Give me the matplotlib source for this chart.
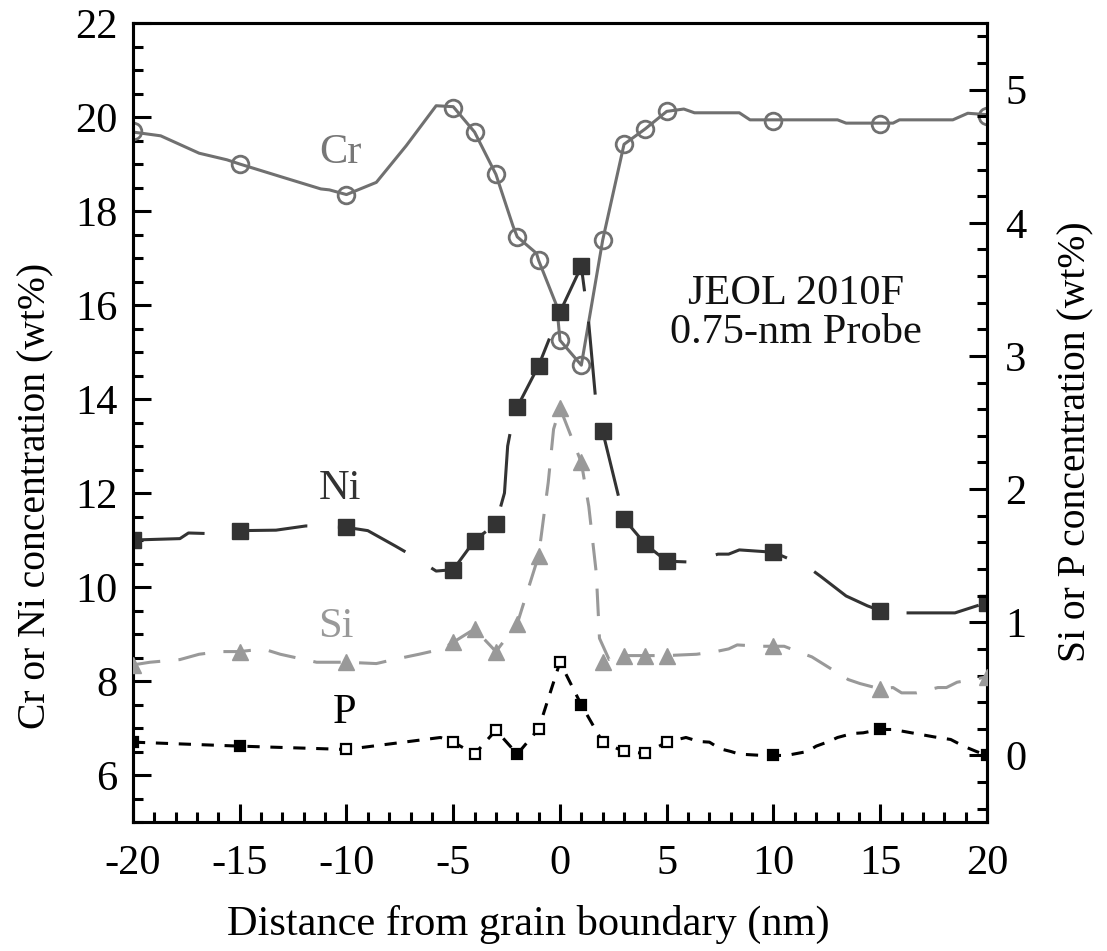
import matplotlib
matplotlib.use("Agg")
import matplotlib.pyplot as plt
from matplotlib.ticker import MultipleLocator

plt.rcParams['font.family'] = ['Liberation Serif', 'DejaVu Serif']
plt.rcParams['axes.unicode_minus'] = False

# measured points (markers)
pos = [-20, -15, -10, -5, -4, -3, -2, -1, 0, 1, 2, 3, 4, 5, 10, 15, 20]
cr = [19.7, 19.0, 18.35, 20.2, 19.68, 18.78, 17.45, 16.95, 15.25, 14.72, 17.38, 19.42, 19.75, 20.12, 19.92, 19.85, 20.02]
ni = [11.0, 11.2, 11.27, 10.37, 10.99, 11.35, 13.83, 14.71, 15.85, 16.82, 13.31, 11.45, 10.91, 10.55, 10.74, 9.5, 9.67]
si = [0.68, 0.78, 0.70, 0.85, 0.95, 0.78, 0.99, 1.50, 2.61, 2.2, 0.70, 0.75, 0.75, 0.75, 0.82, 0.50, 0.59]
p = [0.10, 0.07, 0.045, 0.10, 0.01, 0.19, 0.01, 0.20, 0.70, 0.38, 0.10, 0.03, 0.015, 0.10, 0.0, 0.195, 0.0]
p_filled = [1, 1, 0, 0, 0, 0, 1, 0, 0, 1, 0, 0, 0, 0, 1, 1, 1]

# drawn profile curves
cr_line_x = [-20, -18.7, -16.9, -15.6, -15, -13.0, -11.2, -10.8, -10, -8.6, -7.2, -5.8, -5, -4, -3, -2.2, -2,
             -1.1, -1, -0.15, 0, 1, 2, 3, 4, 5, 5.8, 6.3, 8.4, 8.9, 13.0, 13.4, 15.6, 15.9, 18.4, 19.1, 20]
cr_line_y = [19.68, 19.6, 19.23, 19.09, 19.0, 18.72, 18.47, 18.45, 18.35, 18.61, 19.39, 20.24, 20.22, 19.68, 18.78,
             17.68, 17.45, 17.1, 16.95, 15.98, 15.25, 14.72, 17.38, 19.42, 19.75, 20.12, 20.17, 20.09, 20.09, 19.94,
             19.94, 19.87, 19.87, 19.94, 19.94, 20.08, 20.05]

ni_line_x = [-20, -17.8, -17.4, -15.9, -15.5, -15, -13.3, -11.9, -10, -9, -7.7, -6.9, -5.8, -5, -4, -3, -2.6, -2.45,
             -2.2, -2, -1, 0, 1, 1.35, 1.72, 2, 3, 4, 5, 6.2, 7.4, 7.9, 8.4, 10, 11.6, 12.2, 13.4, 14.4, 15, 15.5,
             18.5, 20]
ni_line_y = [11.0, 11.03, 11.15, 11.13, 11.21, 11.2, 11.21, 11.3, 11.27, 11.2, 10.87, 10.66, 10.34, 10.37, 10.99,
             11.35, 12.0, 13.0, 13.6, 13.83, 14.71, 15.85, 16.82, 15.6, 13.75, 13.31, 11.45, 10.91, 10.55, 10.53,
             10.7, 10.7, 10.79, 10.74, 10.43, 10.23, 9.81, 9.6, 9.5, 9.45, 9.45, 9.67]

si_line_x = [-20, -19.2, -17.8, -16.9, -15.9, -15, -13.9, -13.1, -11.4, -10, -8.6, -7.8, -6.6, -5.5, -5, -4, -3, -2,
             -1, -0.55, -0.3, 0, 1, 1.35, 1.7, 1.85, 2.3, 3, 4, 5, 6.4, 7.3, 7.9, 8.3, 9.4, 10, 10.5, 11.3, 11.8,
             12.5, 13.5, 14.05, 15, 15.6, 16.0, 16.7, 17.7, 18.1, 18.6, 20]
si_line_y = [0.68, 0.70, 0.72, 0.76, 0.78, 0.78, 0.80, 0.76, 0.70, 0.70, 0.69, 0.72, 0.76, 0.80, 0.85, 0.95, 0.78,
             0.99, 1.50, 2.05, 2.45, 2.61, 2.2, 1.87, 1.37, 0.88, 0.72, 0.75, 0.75, 0.75, 0.76, 0.78, 0.80, 0.83,
             0.82, 0.82, 0.82, 0.77, 0.74, 0.67, 0.57, 0.54, 0.50, 0.51, 0.47, 0.47, 0.51, 0.51, 0.55, 0.59]

p_line_x = [-20, -15, -10, -5.6, -5, -4, -3, -2, -1, 0, 1, 2, 3, 4, 5, 5.9, 6.5, 7.0, 7.5, 8.0, 8.4, 9.5, 10, 10.6,
            11.6, 12.0, 12.6, 13.0, 13.7, 14.2, 15, 15.6, 17.5, 18.3, 18.9, 19.5, 20]
p_line_y = [0.10, 0.07, 0.045, 0.135, 0.10, 0.01, 0.19, 0.01, 0.20, 0.70, 0.38, 0.10, 0.03, 0.015, 0.10, 0.135,
            0.105, 0.10, 0.05, 0.03, 0.01, 0.0, 0.0, 0.0, 0.03, 0.07, 0.105, 0.135, 0.165, 0.17, 0.195, 0.195, 0.14,
            0.12, 0.07, 0.03, 0.0]

c_cr = '#707070'
c_ni = '#333333'
c_si = '#999999'
c_p = '#000000'
fs = 30.5
fs_ylab = 28.5

fig = plt.figure(figsize=(11.07, 9.51), dpi=100)
ax = fig.add_axes([0.1201, 0.1356, 0.7715, 0.8402])
ax2 = ax.twinx()

# Cr / Ni on the left axis
ax.plot(cr_line_x, cr_line_y, color=c_cr, lw=2.2, zorder=2)
ax.plot(pos, cr, 'o', ms=12, mfc='none', mec=c_cr, mew=2, zorder=3)
ax.plot(ni_line_x, ni_line_y, color=c_ni, lw=2.2, dashes=(24, 10), zorder=4)
ax.plot(pos, ni, 's', ms=12, mfc=c_ni, mec=c_ni, zorder=5)

# Si / P on the right axis
ax2.plot(si_line_x, si_line_y, color=c_si, lw=2.2, dashes=(9, 6), zorder=2)
ax2.plot(pos, si, '^', ms=11, mfc=c_si, mec=c_si, zorder=3)
ax2.plot(p_line_x, p_line_y, color=c_p, lw=2.2, dashes=(4, 3.5), zorder=4)
for xi, yi, f in zip(pos, p, p_filled):
    ax2.plot(xi, yi, 's', ms=7.5, mfc=(c_p if f else 'white'), mec=c_p, mew=1.6, zorder=5)

ax.set_xlim(-20, 20)
ax.set_ylim(5, 22)
ax2.set_ylim(-0.5, 5.5)

ax.xaxis.set_major_locator(MultipleLocator(5))
ax.xaxis.set_minor_locator(MultipleLocator(1))
ax.yaxis.set_minor_locator(MultipleLocator(0.5))
ax2.yaxis.set_minor_locator(MultipleLocator(0.2))
ax.set_yticks(range(6, 23, 2))
ax2.set_yticks(range(0, 6))

for a in (ax, ax2):
    for s in a.spines.values():
        s.set_linewidth(2.2)
ax.tick_params(axis='both', which='major', direction='in', length=13, width=2.2, labelsize=fs, pad=11,
               top=False, right=False)
ax.tick_params(axis='both', which='minor', direction='in', length=7, width=2.2, top=False, right=False)
ax.tick_params(axis='x', which='major', pad=16)
ax2.tick_params(axis='x', which='both', top=False, bottom=False, labeltop=False, labelbottom=False)
ax2.tick_params(axis='y', which='major', direction='in', length=13, width=2.2, labelsize=fs, pad=13)
ax2.tick_params(axis='y', which='minor', direction='in', length=7, width=2.2)

ax.set_xlabel('Distance from grain boundary (nm)', fontsize=fs)
ax.xaxis.set_label_coords(0.4625, -0.104)
ax.set_ylabel('Cr or Ni concentration (wt%)', fontsize=fs_ylab)
ax.yaxis.set_label_coords(-0.092, 0.408)
ax2.set_ylabel('Si or P concentration (wt%)', fontsize=fs_ylab)
ax2.yaxis.set_label_coords(1.083, 0.476)

ax.text(-10.3, 19.25, 'Cr', color='#777777', fontsize=fs, ha='center', va='center')
ax.text(-10.3, 12.1, 'Ni', color=c_ni, fontsize=fs, ha='center', va='center')
ax.text(-10.5, 9.15, 'Si', color=c_si, fontsize=fs, ha='center', va='center')
ax.text(-10.1, 7.32, 'P', color=c_p, fontsize=fs, ha='center', va='center')
ax.text(11.05, 15.83, 'JEOL 2010F\n0.75-nm Probe', color='#111111', fontsize=fs, ha='center', va='center',
        linespacing=1.0)

fig.savefig('out.png', dpi=100)
